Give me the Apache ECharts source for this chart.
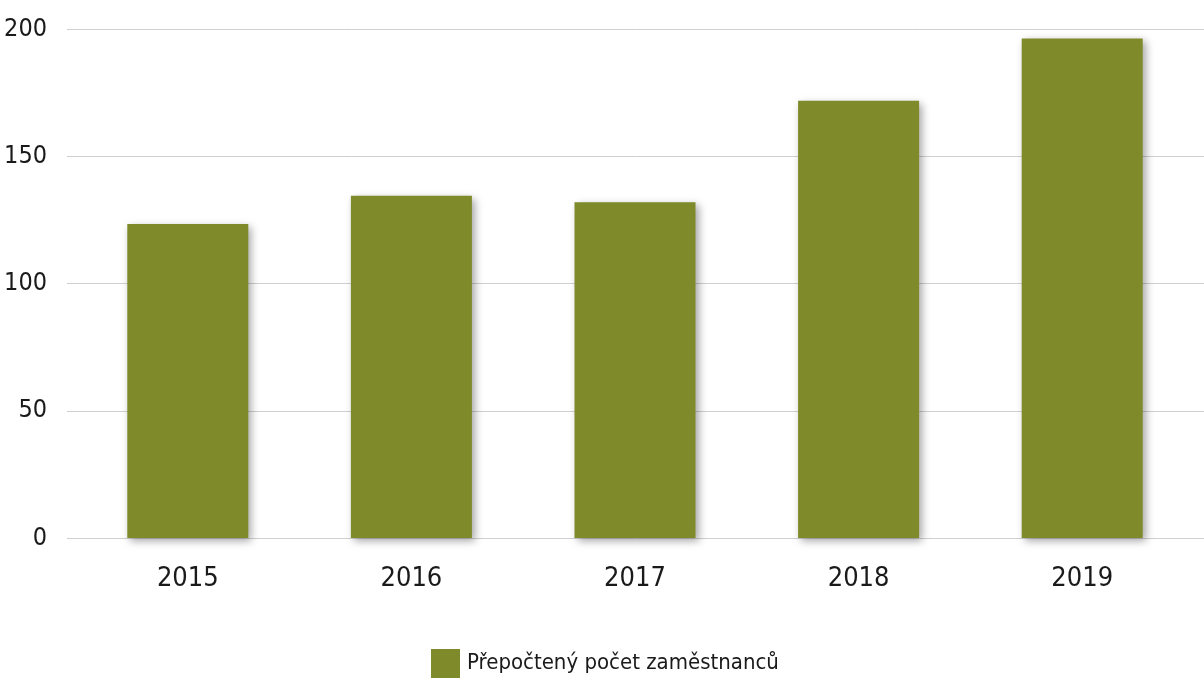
<!DOCTYPE html>
<html>
<head>
    <meta charset="UTF-8">
    <title>Přepočtený počet zaměstnanců</title>
    <style>
        html, body { margin: 0; padding: 0; background: #fff; }
        #chart { width: 1204px; height: 683px; }
    </style>
    <script src="https://cdn.jsdelivr.net/npm/echarts@6/dist/echarts.min.js"></script>
</head>
<body>
    <div id="chart"></div>
    <script type="text/javascript">
        // data
        var years = ['2015', '2016', '2017', '2018', '2019'];
        var employees = [123.4, 134.5, 131.9, 171.8, 196.3];
        var yTicks = [0, 50, 100, 150, 200];

        var font = '"DejaVu Sans Condensed", "Liberation Sans Narrow", sans-serif';
        var green = '#7f8a2a';

        var myChart = echarts.init(document.getElementById('chart'));
        var option = {
            animation: false,
            backgroundColor: '#fff',
            legend: {
                bottom: 0,
                left: 426,
                icon: 'rect',
                itemWidth: 29,
                itemHeight: 29,
                itemGap: 10,
                textStyle: { fontFamily: font, fontSize: 22, color: '#1a1a1a', padding: [0, 0, 0, 2] },
                data: ['Přepočtený počet zaměstnanců']
            },
            grid: [
                // bars
                { left: 76, right: 10, top: 29, bottom: 145 },
                // gridlines + y labels
                { left: 67, right: 0, top: 29, bottom: 145 }
            ],
            xAxis: [{
                type: 'category',
                gridIndex: 0,
                data: years,
                axisLine: { show: false },
                axisTick: { show: false },
                axisLabel: { fontFamily: font, fontSize: 27, color: '#1a1a1a', margin: 27 }
            }, {
                type: 'category',
                gridIndex: 1,
                data: years,
                show: false
            }],
            yAxis: [{
                type: 'value',
                gridIndex: 0,
                min: 0,
                max: 200,
                interval: 50,
                show: false
            }, {
                type: 'value',
                gridIndex: 1,
                min: yTicks[0],
                max: yTicks[yTicks.length - 1],
                interval: 50,
                axisLine: { show: false },
                axisTick: { show: false },
                splitLine: { lineStyle: { color: '#d0d0d0', width: 1 } },
                axisLabel: { fontFamily: font, fontSize: 25, color: '#1a1a1a', margin: 20 }
            }],
            series: [{
                name: 'Přepočtený počet zaměstnanců',
                type: 'bar',
                xAxisIndex: 0,
                yAxisIndex: 0,
                data: employees,
                barWidth: 121,
                z: 3,
                itemStyle: {
                    color: green,
                    shadowColor: 'rgba(0,0,0,0.35)',
                    shadowBlur: 8,
                    shadowOffsetX: 3,
                    shadowOffsetY: 3
                }
            }]
        };
        myChart.setOption(option);
    </script>
</body>
</html>
